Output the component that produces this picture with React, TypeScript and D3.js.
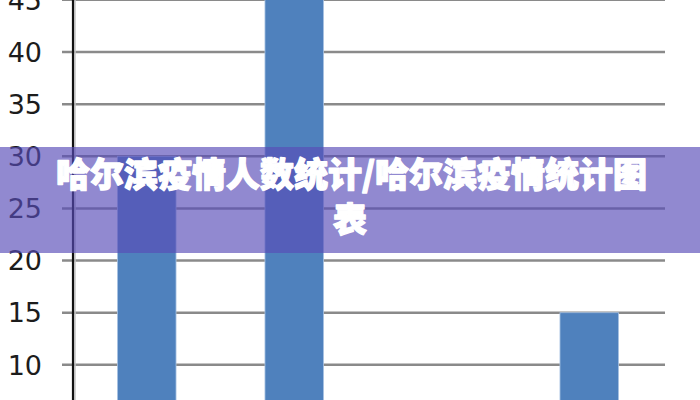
import React from "react";
import * as d3 from "d3";

const categories = ["A", "B", "C", "D"];
const values = [30, 50, 6, 15];
const yTicks = [0, 5, 10, 15, 20, 25, 30, 35, 40, 45, 50];
const titleLine1 = "哈尔滨疫情人数统计/哈尔滨疫情统计图";
const titleLine2 = "表";

const W = 700;
const H = 400;

export default function App() {
  const axisX = 73;
  const x = d3
    .scaleBand<string>()
    .domain(categories)
    .range([axisX, 663])
    .paddingInner(0.603)
    .paddingOuter(0.3015);
  const y = d3.scaleLinear().domain([15, 40]).range([312.7, 52]);
  const visibleTicks = yTicks.filter((t) => y(t) < H - 10 && y(t) > -20);

  return (
    <svg
      width={W}
      height={H}
      style={{ position: "absolute", left: 0, top: 0, background: "#fff" }}
    >
      <rect x={0} y={0} width={W} height={H} fill="#fff" />
      {yTicks.map((t) => (
        <line
          key={"g" + t}
          x1={62}
          x2={665}
          y1={y(t)}
          y2={y(t)}
          stroke="#8a8a8a"
          strokeWidth={2.5}
        />
      ))}
      {categories.map((c, i) => (
        <rect
          key={c}
          x={x(c)}
          width={x.bandwidth()}
          y={y(values[i])}
          height={Math.max(0, y(0) - y(values[i]))}
          fill="#4f81bd"
          stroke="#a9c3e3"
          strokeWidth={0.8}
        />
      ))}
      <line x1={axisX + 2} x2={axisX + 2} y1={0} y2={H} stroke="#c4c4c4" strokeWidth={1.5} />
      <line x1={axisX} x2={axisX} y1={0} y2={H} stroke="#111" strokeWidth={2.2} />
      {visibleTicks.map((t) => (
        <text
          key={"l" + t}
          x={42}
          y={y(t)}
          dy="0.36em"
          textAnchor="end"
          fontFamily="DejaVu Sans, Verdana, sans-serif"
          fontSize={27}
          fill="#1c1c1c"
        >
          {t}
        </text>
      ))}
      <rect x={0} y={147} width={W} height={106} fill="rgb(88,76,184)" fillOpacity={0.66} />
      <g
        fontFamily="'Noto Sans CJK SC', 'Noto Sans', sans-serif"
        fontWeight={900}
        fontSize={34}
        fill="#fff"
        stroke="#fff"
        strokeWidth={1.3}
        strokeLinejoin="round"
      >
        <text x={56} y={175} dy="0.36em" textAnchor="start" textLength={591} lengthAdjust="spacing">
          {titleLine1}
        </text>
        <text x={350} y={220} dy="0.36em" textAnchor="middle">
          {titleLine2}
        </text>
      </g>
    </svg>
  );
}
